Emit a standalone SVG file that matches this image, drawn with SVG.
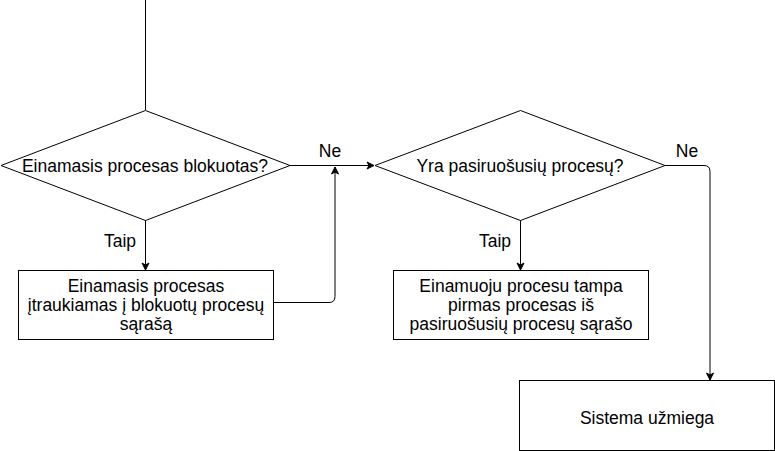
<svg xmlns="http://www.w3.org/2000/svg" width="775" height="451" viewBox="0 0 775 451">
<defs>
<marker id="arr" markerWidth="10" markerHeight="10" refX="8" refY="5" orient="auto" markerUnits="userSpaceOnUse">
<path d="M1,1.5 L8,5 L1,8.5 L3,5 Z" fill="#000" stroke="#000" stroke-width="1"/>
</marker>
<style>
.s{fill:#fff;stroke:#000;stroke-width:1}
.c{fill:none;stroke:#000;stroke-width:1}
text{font-family:"Liberation Sans",Arial,sans-serif;font-size:17.5px;fill:#000;text-anchor:middle}
</style>
</defs>
<rect x="0" y="0" width="775" height="451" fill="#fff"/>
<g id="connectors">
<path class="c" d="M145.5,0 L145.5,110"/>
<path class="c" d="M145.5,220 L145.5,270" marker-end="url(#arr)"/>
<path class="c" d="M290,165.5 L374,165.5" marker-end="url(#arr)"/>
<path class="c" d="M273,302.5 L329,302.5 Q335,302.5 335,296.5 L335,167" marker-end="url(#arr)"/>
<path class="c" d="M520.5,220 L520.5,270" marker-end="url(#arr)"/>
<path class="c" d="M665,165.5 L704,165.5 Q710,165.5 710,171.5 L710,380" marker-end="url(#arr)"/>
<text x="120" y="247">Taip</text>
<text x="495" y="247">Taip</text>
<text x="330" y="157">Ne</text>
<text x="687" y="157">Ne</text>
</g>
<g id="d1">
<polygon class="s" points="1,165.5 145.5,110.5 290,165.5 145.5,220.5"/>
<text x="145" y="171.5">Einamasis procesas blokuotas?</text>
</g>
<g id="d2">
<polygon class="s" points="375,165.5 520.5,110.5 665,165.5 520.5,220.5"/>
<text x="520" y="171.5">Yra pasiruošusių procesų?</text>
</g>
<g id="b1">
<rect class="s" x="18.5" y="270.5" width="255" height="69"/>
<text x="146" y="292">Einamasis procesas</text>
<text x="146" y="311">įtraukiamas į blokuotų procesų</text>
<text x="146" y="330">sąrašą</text>
</g>
<g id="b2">
<rect class="s" x="393.5" y="270.5" width="255" height="69"/>
<text x="521" y="292">Einamuoju procesu tampa</text>
<text x="521" y="311">pirmas procesas iš</text>
<text x="521" y="330">pasiruošusių procesų sąrašo</text>
</g>
<g id="b3">
<rect class="s" x="519.5" y="380.5" width="255" height="70"/>
<text x="647" y="424">Sistema užmiega</text>
</g>
</svg>
